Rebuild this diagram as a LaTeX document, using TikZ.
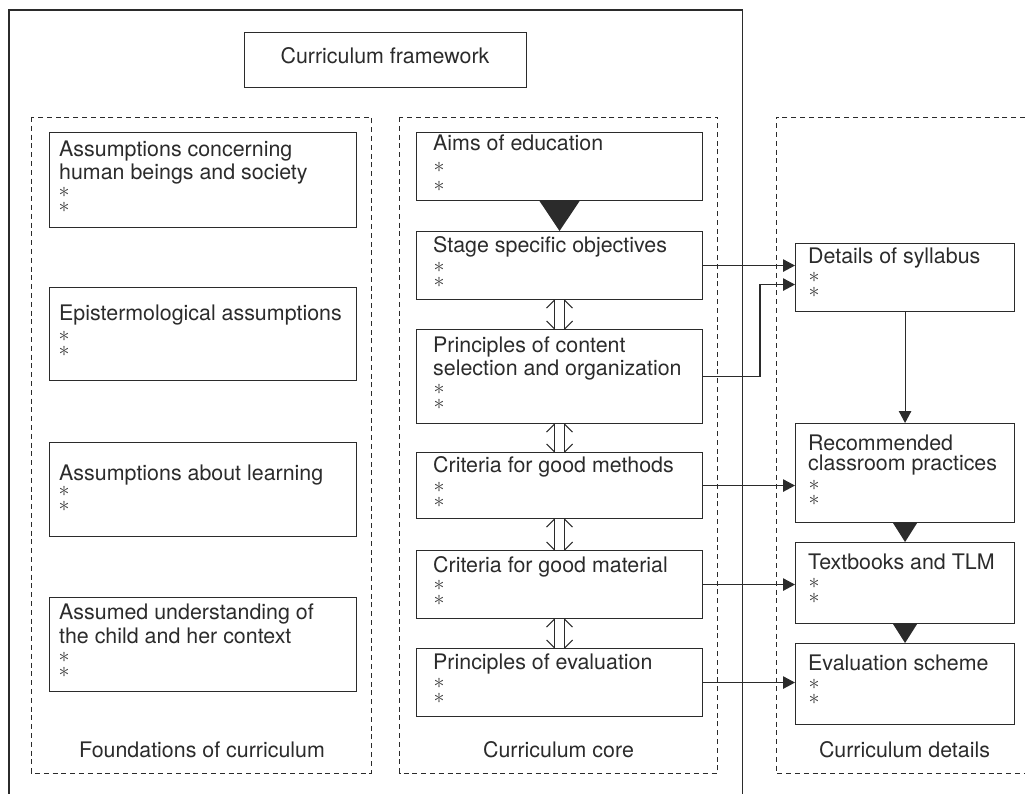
\documentclass[tikz,border=0pt]{standalone}
\usepackage{fontspec}
\usepackage{graphicx}
\setmainfont{TeX Gyre Heros}
\usetikzlibrary{arrows.meta,calc}
\definecolor{ink}{HTML}{2B2B2B}
\newcommand\starmark{\scalebox{2.2}{$\ast$}}
\begin{document}
\begin{tikzpicture}[x=1pt,y=-1pt,
  box/.style={draw=ink, line width=1.1pt, inner sep=0pt, anchor=north west},
  frame/.style={draw=ink, line width=1.1pt},
  dbox/.style={draw=ink, line width=0.9pt, dash pattern=on 5pt off 3.8pt},
  txt/.style={inner sep=0pt, anchor=base west, text=ink, font=\fontsize{21.4}{23}\selectfont},
  lab/.style={inner sep=0pt, anchor=base, text=ink, font=\fontsize{21.4}{23}\selectfont},
  ast/.style={inner sep=0pt, anchor=center, text height=9.6pt, text depth=0pt, text=ink!90},
  arr/.style={draw=ink, line width=1.1pt, -{Triangle[length=12pt,width=12.5pt]}},
  conn/.style={draw=ink, line width=1.1pt},
  tri/.style={fill=ink}
]
\useasboundingbox (0,0) rectangle (1025,794);

% frames
\draw[frame] (9,794) -- (9,10) -- (742.7,10) -- (742.7,794);
\draw[dbox] (31,117) rectangle (371,773);
\draw[dbox] (399.5,117) rectangle (717.7,773);
\draw[dbox] (1025,117) -- (776,117) -- (776,773) -- (1025,773);

% title
\node[box, minimum width=282pt, minimum height=55pt] (fw) at (244,32) {};
\node[lab] (fwt) at (385,64) {Curriculum framework};

% left column
\node[box, minimum width=307pt, minimum height=95pt] (lb1) at (49,132) {};
\node[box, minimum width=307pt, minimum height=93pt] (lb2) at (49,287) {};
\node[box, minimum width=307pt, minimum height=94pt] (lb3) at (49,442) {};
\node[box, minimum width=307pt, minimum height=94pt] (lb4) at (49,597) {};

\node[txt] (lb1a) at (59,157) {Assumptions concerning};
\node[txt] (lb1b) at (59,180) {human beings and society};
\node[ast] (lb1s1) at (64,193) {\starmark};
\node[ast] (lb1s2) at (64,208) {\starmark};
\node[txt] (lb2a) at (59,320) {Epistermological assumptions};
\node[ast] (lb2s1) at (64,337) {\starmark};
\node[ast] (lb2s2) at (64,352) {\starmark};
\node[txt] (lb3a) at (59,480) {Assumptions about learning};
\node[ast] (lb3s1) at (64,492) {\starmark};
\node[ast] (lb3s2) at (64,507) {\starmark};
\node[txt] (lb4a) at (59,619) {Assumed understanding of};
\node[txt] (lb4b) at (59,643) {the child and her context};
\node[ast] (lb4s1) at (64,658) {\starmark};
\node[ast] (lb4s2) at (64,673) {\starmark};
\node[lab] (flab) at (202,757) {Foundations of curriculum};

% middle column
\node[box, minimum width=286pt, minimum height=68pt] (aims) at (416,132) {};
\node[box, minimum width=286pt, minimum height=68pt] (stage) at (416,231) {};
\node[box, minimum width=286pt, minimum height=94pt] (princ) at (416,329) {};
\node[box, minimum width=286pt, minimum height=66pt] (meth) at (416,452) {};
\node[box, minimum width=286pt, minimum height=68pt] (mat) at (416,550) {};
\node[box, minimum width=286pt, minimum height=68pt] (evalp) at (416,648) {};

\node[txt] (aimst) at (433,151) {Aims of education};
\node[ast] (aimss1) at (439,168) {\starmark};
\node[ast] (aimss2) at (439,187) {\starmark};
\node[txt] (staget) at (433,253) {Stage specific objectives};
\node[ast] (stages1) at (439,268) {\starmark};
\node[ast] (stages2) at (439,283) {\starmark};
\node[txt] (princa) at (433,352) {Principles of content};
\node[txt] (princb) at (433,375) {selection and organization};
\node[ast] (princs1) at (439,390) {\starmark};
\node[ast] (princs2) at (439,405) {\starmark};
\node[txt] (metht) at (433,472) {Criteria for good methods};
\node[ast] (meths1) at (439,488) {\starmark};
\node[ast] (meths2) at (439,503) {\starmark};
\node[txt] (matt) at (433,572) {Criteria for good material};
\node[ast] (mats1) at (439,586) {\starmark};
\node[ast] (mats2) at (439,601) {\starmark};
\node[txt] (evalpt) at (433,669) {Principles of evaluation};
\node[ast] (evalps1) at (439,684) {\starmark};
\node[ast] (evalps2) at (439,699) {\starmark};
\node[lab] (clab) at (558.5,757) {Curriculum core};

% right column
\node[box, minimum width=219pt, minimum height=68pt] (det) at (795,243) {};
\node[box, minimum width=219pt, minimum height=99pt] (rec) at (795,423) {};
\node[box, minimum width=219pt, minimum height=81pt] (tb) at (795,542) {};
\node[box, minimum width=219pt, minimum height=81pt] (evs) at (795,643) {};

\node[txt] (dett) at (808,264) {Details of syllabus};
\node[ast] (dets1) at (814,278) {\starmark};
\node[ast] (dets2) at (814,293) {\starmark};
\node[txt] (reca) at (808,450) {Recommended};
\node[txt] (recb) at (808,470) {classroom practices};
\node[ast] (recs1) at (814,486) {\starmark};
\node[ast] (recs2) at (814,501) {\starmark};
\node[txt] (tbt) at (808,569) {Textbooks and TLM};
\node[ast] (tbs1) at (814,584) {\starmark};
\node[ast] (tbs2) at (814,599) {\starmark};
\node[txt] (evst) at (808,670) {Evaluation scheme};
\node[ast] (evss1) at (814,685) {\starmark};
\node[ast] (evss2) at (814,700) {\starmark};
\node[lab] (dlab) at (904.5,757) {Curriculum details};

% filled triangles
\fill[tri] ($(aims.south)+(-20,0)$) -- ($(aims.south)+(20,0)$) -- (stage.north) -- cycle;
\fill[tri] ($(rec.south)+(-12,0)$) -- ($(rec.south)+(12,0)$) -- (tb.north) -- cycle;
\fill[tri] ($(tb.south)+(-12,0)$) -- ($(tb.south)+(12,0)$) -- (evs.north) -- cycle;

% double connectors
\foreach \a/\b in {stage/princ, princ/meth, meth/mat, mat/evalp}{
  \draw[conn] ($(\a.south)+(-5,0)$) -- ($(\b.north)+(-5,0)$);
  \draw[conn] ($(\a.south)+(5,0)$) -- ($(\b.north)+(5,0)$);
  \draw[conn] ($(\a.south)+(-5,0)$) -- ++(-8,8);
  \draw[conn] ($(\a.south)+(5,0)$) -- ++(8,8);
  \draw[conn] ($(\b.north)+(-5,0)$) -- ++(-8,-8);
  \draw[conn] ($(\b.north)+(5,0)$) -- ++(8,-8);
}

% arrows
\draw[arr] (stage.east) -- (stage.east -| det.west);
\draw[arr] (princ.east) -| ($(det.west)+(-35,7)$) -- ($(det.west)+(0,7)$);
\draw[arr] (meth.east) -- (meth.east -| rec.west);
\draw[arr] (mat.east) -- (mat.east -| tb.west);
\draw[arr] (evalp.east) -- (evalp.east -| evs.west);
\draw[arr] (det.south) -- (rec.north);

\end{tikzpicture}
\end{document}
